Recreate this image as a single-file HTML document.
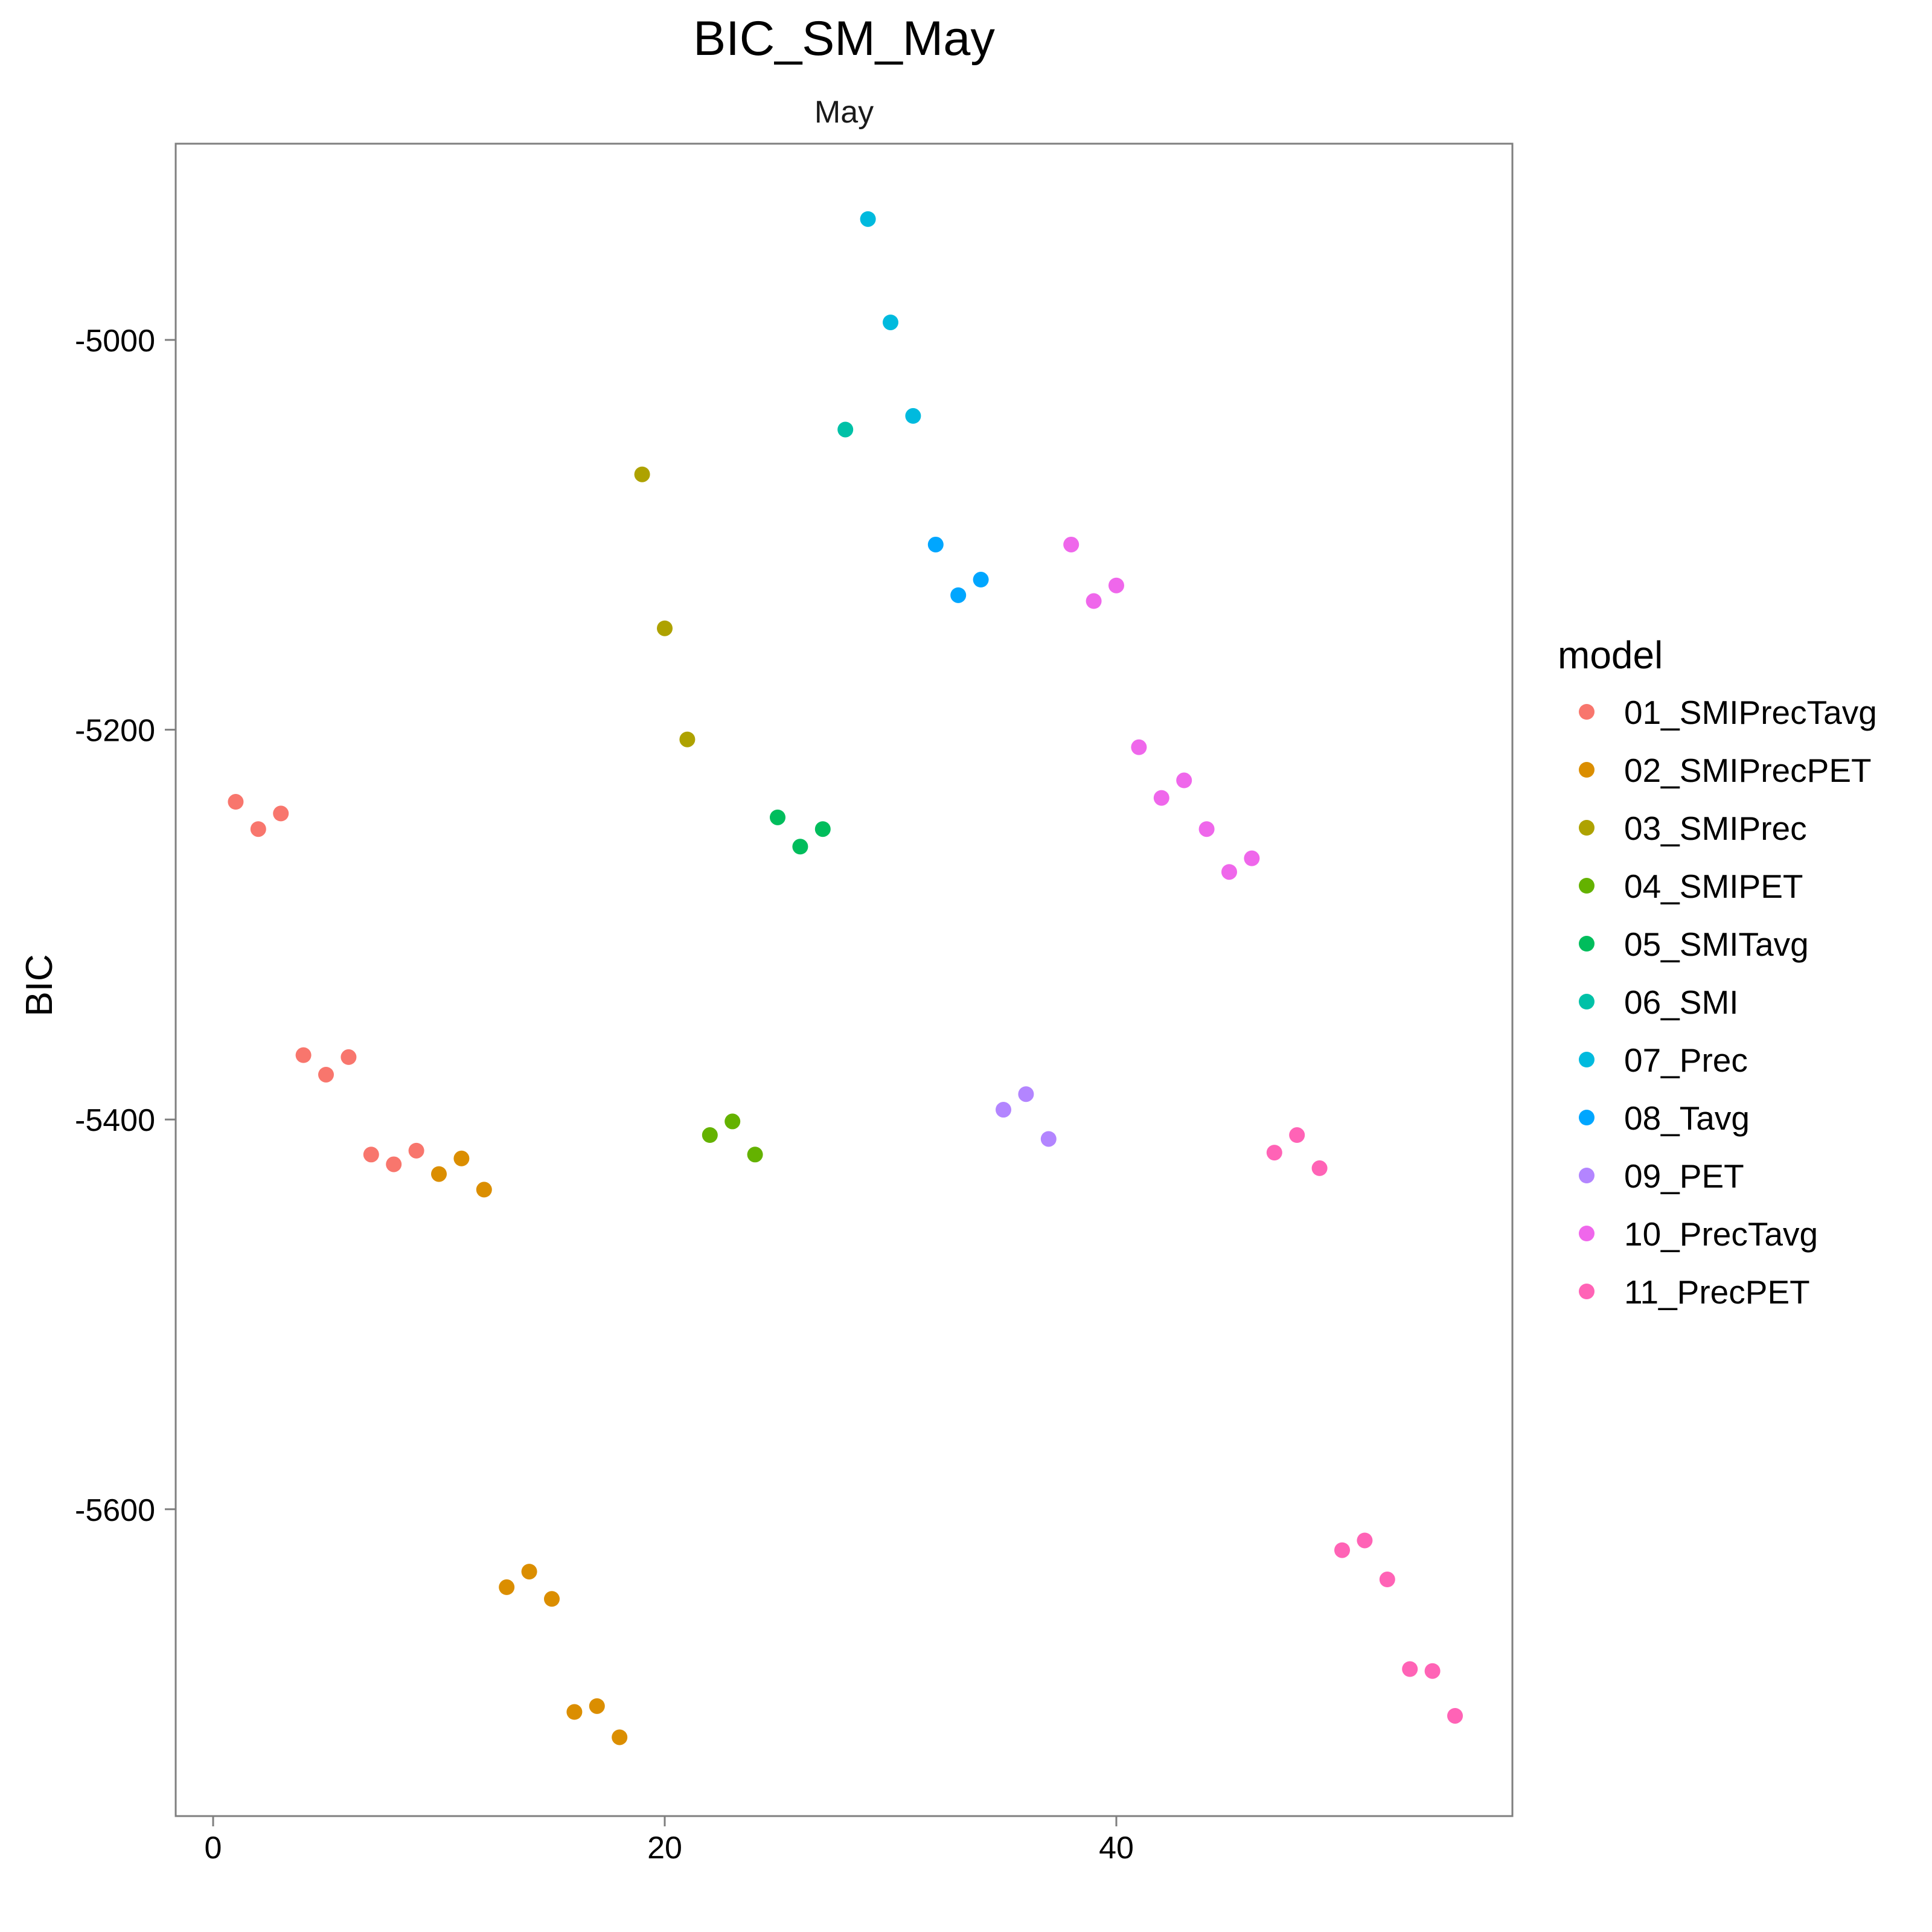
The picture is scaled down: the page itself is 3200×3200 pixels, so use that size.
<!DOCTYPE html>
<html><head><meta charset="utf-8"><style>
html,body{margin:0;padding:0;background:#fff}
svg{display:block;font-family:"Liberation Sans",Arial,sans-serif}
</style></head><body>
<svg id="chart" width="3200" height="3200" viewBox="0 0 3200 3200" xmlns="http://www.w3.org/2000/svg">
<rect x="0" y="0" width="3200" height="3200" fill="#fff"/>
<text x="1398" y="91" font-size="81" text-anchor="middle">BIC_SM_May</text>
<text x="1398" y="203" font-size="52" text-anchor="middle" fill="#1a1a1a">May</text>
<g id="points"></g>
<rect x="291" y="238" width="2214" height="2770" fill="none" stroke="#7f7f7f" stroke-width="3"/>
<g id="axes"></g>
<text transform="translate(86,1632) rotate(-90)" font-size="62" text-anchor="middle">BIC</text>
<text x="2580" y="1107" font-size="64">model</text>
<g id="legend"></g>
</svg>
<script>
const models = ["01_SMIPrecTavg","02_SMIPrecPET","03_SMIPrec","04_SMIPET","05_SMITavg","06_SMI","07_Prec","08_Tavg","09_PET","10_PrecTavg","11_PrecPET"];
const colors = ["#F8766D","#DB8E00","#AEA200","#64B200","#00BD5C","#00C1A7","#00BADE","#00A6FF","#B385FF","#EF67EB","#FF63B6"];
const pointIndex = [1,2,3,4,5,6,7,8,9,10,11,12,13,14,15,16,17,18,19,20,21,22,23,24,25,26,27,28,29,30,31,32,33,34,35,36,37,38,39,40,41,42,43,44,45,46,47,48,49,50,51,52,53,54,55];
const pointModel = [0,0,0,0,0,0,0,0,0,1,1,1,1,1,1,1,1,1,2,2,2,3,3,3,4,4,4,5,6,6,6,7,7,7,8,8,8,9,9,9,9,9,9,9,9,9,10,10,10,10,10,10,10,10,10];
const bicValues = [-5237,-5251,-5243,-5367,-5377,-5368,-5418,-5423,-5416,
 -5428,-5420,-5436,-5640,-5632,-5646,-5704,-5701,-5717,
 -5069,-5148,-5205,
 -5408,-5401,-5418,
 -5245,-5260,-5251,
 -5046,
 -4938,-4991,-5039,
 -5105,-5131,-5123,
 -5395,-5387,-5410,
 -5105,-5134,-5126,-5209,-5235,-5226,-5251,-5273,-5266,
 -5417,-5408,-5425,-5621,-5616,-5636,-5682,-5683,-5706];
const xTicks = [0,20,40];
const yTicks = [-5000,-5200,-5400,-5600];

const NS = "http://www.w3.org/2000/svg";
function xs(v){ return 353 + v * 37.4; }
function ys(v){ return 563 + (-5000 - v) * 3.228; }

const pg = document.getElementById('points');
for (let i = 0; i < bicValues.length; i++) {
  const c = document.createElementNS(NS, 'circle');
  c.setAttribute('cx', xs(pointIndex[i]));
  c.setAttribute('cy', ys(bicValues[i]));
  c.setAttribute('r', 13);
  c.setAttribute('fill', colors[pointModel[i]]);
  
  
  pg.appendChild(c);
}

const ag = document.getElementById('axes');
xTicks.forEach(t => {
  const l = document.createElementNS(NS, 'line');
  l.setAttribute('x1', xs(t)); l.setAttribute('x2', xs(t));
  l.setAttribute('y1', 3008); l.setAttribute('y2', 3025);
  l.setAttribute('stroke', '#7f7f7f'); l.setAttribute('stroke-width', 3);
  
  
  ag.appendChild(l);
  const tx = document.createElementNS(NS, 'text');
  tx.setAttribute('x', xs(t)); tx.setAttribute('y', 3078);
  tx.setAttribute('font-size', 52); tx.setAttribute('text-anchor', 'middle');
  tx.setAttribute('fill', '#000');
  tx.textContent = t;
  
  
  ag.appendChild(tx);
});
yTicks.forEach(t => {
  const l = document.createElementNS(NS, 'line');
  l.setAttribute('x1', 273); l.setAttribute('x2', 291);
  l.setAttribute('y1', ys(t)); l.setAttribute('y2', ys(t));
  l.setAttribute('stroke', '#7f7f7f'); l.setAttribute('stroke-width', 3);
  
  
  ag.appendChild(l);
  const tx = document.createElementNS(NS, 'text');
  tx.setAttribute('x', 257); tx.setAttribute('y', ys(t) + 19);
  tx.setAttribute('font-size', 52); tx.setAttribute('text-anchor', 'end');
  tx.setAttribute('fill', '#000');
  tx.textContent = t;
  
  
  ag.appendChild(tx);
});

const lg = document.getElementById('legend');
models.forEach((m, i) => {
  const cy = 1179 + i * 96;
  const c = document.createElementNS(NS, 'circle');
  c.setAttribute('cx', 2628); c.setAttribute('cy', cy); c.setAttribute('r', 13);
  c.setAttribute('fill', colors[i]);
  
  
  lg.appendChild(c);
  const tx = document.createElementNS(NS, 'text');
  tx.setAttribute('x', 2690); tx.setAttribute('y', cy + 20);
  tx.setAttribute('font-size', 55);
  tx.textContent = m;
  
  
  lg.appendChild(tx);
});
</script>
</body></html>
